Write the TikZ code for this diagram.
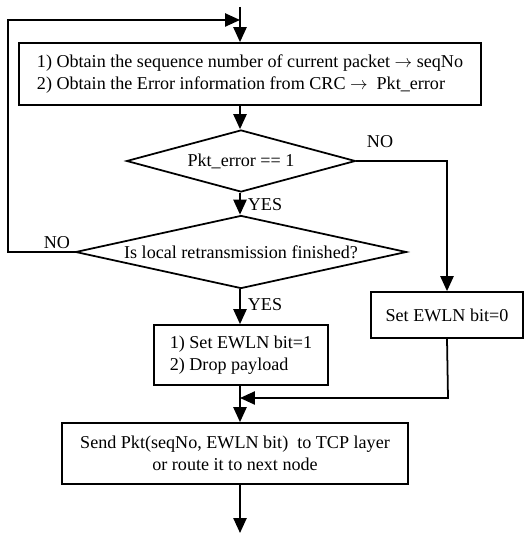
\documentclass[tikz,border=0pt]{standalone}
\usepackage{fontspec}
\setmainfont{Liberation Serif}
\usepackage{tikz}
\usetikzlibrary{arrows.meta,positioning,shapes.geometric}

\begin{document}
\begin{tikzpicture}[x=0.02cm, y=-0.02cm, font=\fontsize{10.3}{12.5}\selectfont,
  >={Triangle[length=8.5pt, width=7.5pt]}, line width=1pt,
  stepbox/.style={rectangle, draw, inner sep=2pt, align=center},
  test/.style={diamond, draw, inner sep=0pt, align=center},
  lbl/.style={inner sep=1pt}]
  \useasboundingbox (0,0) rectangle (526,533);
  \node[stepbox, align=left, minimum width=9.24cm, minimum height=1.24cm] (obtain) at (250,74)
    {1) Obtain the sequence number of current packet $\rightarrow$ seqNo\\
     2) Obtain the Error information from CRC $\rightarrow$\ \ Pkt\_error};
  \node[test, aspect=3.69, minimum width=4.58cm, minimum height=1.24cm] (err) at (241,161) {Pkt\_error == 1};
  \node[test, aspect=4.53, minimum width=6.62cm, minimum height=1.46cm] (fin) at (241,252) {Is local retransmission finished?};
  \node[stepbox, align=left, minimum width=3.48cm, minimum height=1.2cm] (drop) at (241,355)
    {1) Set EWLN bit=1\\2) Drop payload};
  \node[stepbox, minimum width=3.04cm, minimum height=0.92cm] (keep) at (447,315) {Set EWLN bit=0};
  \node[stepbox, minimum width=6.92cm, minimum height=1.22cm] (send) at (235,453.5)
    {Send Pkt(seqNo, EWLN bit)\ \ to TCP layer\\or route it to next node};
  % entry, loop and exit points
  \coordinate (in) at (240,7);
  \coordinate (back) at (8,20);
  \coordinate (join) at (448,398);
  \coordinate (out) at (240,533);
  \draw[->] (in) -- (in |- obtain.north);
  \draw[->] (in |- obtain.south) -- (in |- err.north);
  \draw[->] (in |- err.south) -- node[lbl, right, pos=0.55, xshift=3pt]{YES} (in |- fin.north);
  \draw[->] (in |- fin.south) -- node[lbl, right, pos=0.45, xshift=3pt]{YES} (in |- drop.north);
  \draw[->] (err.east) -| (keep.north);
  \node[lbl] (no1) at (380,142) {NO};
  \draw[->] (fin.west) -- (back |- fin.west) -- (back) -- (in |- back);
  \node[lbl] (no2) at (57,243) {NO};
  \draw[->] (keep.south) -- (join) -- (in |- join);
  \draw[->] (in |- drop.south) -- (in |- send.north);
  \draw[->] (in |- send.south) -- (out);
\end{tikzpicture}
\end{document}
